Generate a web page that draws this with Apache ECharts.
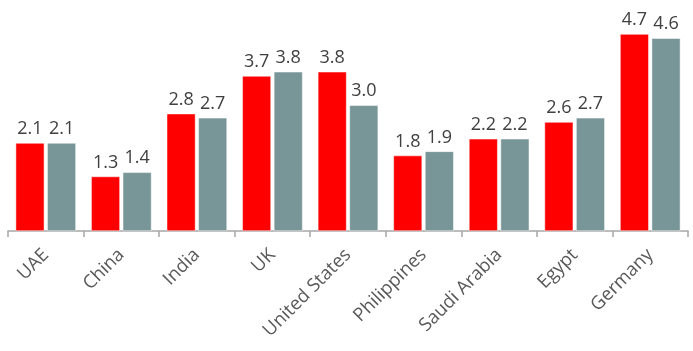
<!DOCTYPE html>
<html><head><meta charset="utf-8">
<script src="https://cdn.jsdelivr.net/npm/echarts@6/dist/echarts.min.js"></script>
<style>html,body{margin:0;padding:0;background:#fff}#c{width:693px;height:351px}</style>
</head><body><div id="c"></div>
<script>
var categories = ["UAE","China","India","UK","United States","Philippines","Saudi Arabia","Egypt","Germany"];
var seriesA = [2.1,1.3,2.8,3.7,3.8,1.8,2.2,2.6,4.7];
var seriesB = [2.1,1.4,2.7,3.8,3.0,1.9,2.2,2.7,4.6];
var chart = echarts.init(document.getElementById('c'));
var lbl = {show:true,position:'top',distance:5,color:'#404040',fontSize:18,fontFamily:'Open Sans',formatter:function(p){return p.value.toFixed(1);}};
chart.setOption({
  animation:false,
  grid:{left:8,right:5,top:21.5,bottom:120,containLabel:false},
  xAxis:{type:'category',data:categories,
    axisLine:{lineStyle:{color:'#A6A6A6',width:1.5}},
    axisTick:{show:true,length:6,lineStyle:{color:'#A6A6A6',width:1.5}},
    axisLabel:{rotate:45,color:'#595959',fontSize:18.5,fontFamily:'Open Sans',margin:21,interval:0}},
  yAxis:{type:'value',min:0,max:5,show:false,splitLine:{show:false}},
  series:[
    {type:'bar',data:seriesA,barWidth:'38%',barGap:'10%',itemStyle:{color:'#FF0000',borderColor:'#ffffff',borderWidth:0.5},label:lbl},
    {type:'bar',data:seriesB,barWidth:'38%',barGap:'10%',itemStyle:{color:'#789598',borderColor:'#ffffff',borderWidth:0.5},label:lbl}
  ]
});
</script></body></html>
